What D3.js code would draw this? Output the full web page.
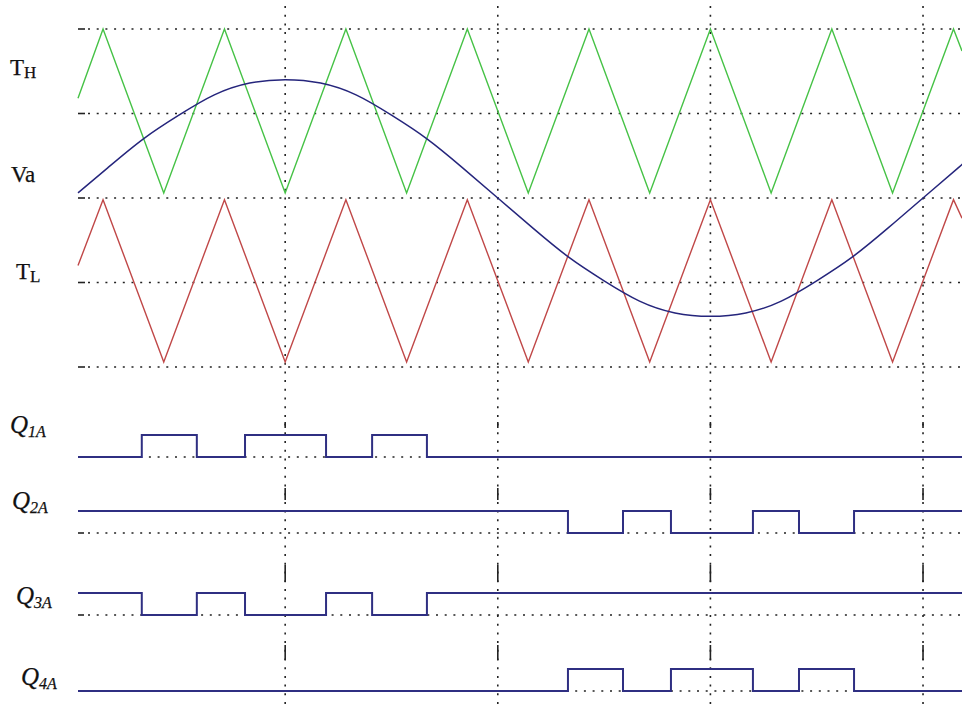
<!DOCTYPE html>
<html>
<head>
<meta charset="utf-8">
<script src="https://cdn.jsdelivr.net/npm/d3@7"></script>
<style>
  body{margin:0;background:#fff;}
  #chart{width:962px;height:704px;}
  text{font-family:"Liberation Serif","DejaVu Serif",serif;fill:#111;stroke:#111;stroke-width:0.25;}
</style>
</head>
<body>
<div id="chart"></div>
<script>
// carrier vertices, phase in degrees of the modulating wave
var carrierPhase=[2.3,12.9,38.6,64.3,90,115.7,141.4,167.1,192.9,218.6,244.3,270,295.7,321.4,347.1,372.9,376.5];
var upperCarrier=[0.59,1,0.03,1,0.03,1,0.03,1,0.03,1,0.03,1,0.03,1,0.03,1,0.87];
var lowerCarrier=[-0.40,-0.01,-0.97,-0.01,-0.97,-0.01,-0.97,-0.01,-0.97,-0.01,-0.97,-0.01,-0.97,-0.01,-0.97,-0.01,-0.12];

// Va
var vaPhase=[2.3,15,30,45,60,75,90,105,120,135,150,165,180,195,210,225,240,255,270,285,300,315,330,345,360,375,376.5];
var vaValue=[0.03,0.18,0.35,0.49,0.61,0.68,0.70,0.68,0.61,0.49,0.35,0.18,0,-0.18,-0.35,-0.49,-0.61,-0.68,-0.70,-0.68,-0.61,-0.49,-0.35,-0.18,0,0.18,0.20];

// switching instants (deg) and level at start
var q1Edges=[29.3,52.6,73.0,107.3,126.8,150.0];
var q2Edges=[209.7,233.0,253.3,288.0,307.5,330.8];
var gateNames=["1A","2A","3A","4A"];
var gateEdges=[q1Edges,q2Edges,q1Edges,q2Edges];
var gateStart=[0,1,1,0];

var gridValues=[1,0.5,0,-0.5,-1];
var gridPhase=[90,180,270,360];

var width=962,height=704;
var svg=d3.select("#chart").append("svg")
  .attr("width",width)
  .attr("height",height);

var x=d3.scaleLinear().domain([2.3,376.5]).range([78,962]);
var y=d3.scaleLinear().domain([-1,1]).range([367,29]);

var dots="2,6.7";
var gridColor="#222";

// top horizontal grid
gridValues.forEach(function(v){
  svg.append("line")
    .attr("x1",x(2.3)).attr("x2",x(2.3)+7)
    .attr("y1",y(v)).attr("y2",y(v))
    .attr("stroke",gridColor).attr("stroke-width",1.6);
  svg.append("line")
    .attr("x1",x(2.3)+10).attr("x2",width)
    .attr("y1",y(v)).attr("y2",y(v))
    .attr("stroke",gridColor).attr("stroke-width",1.6)
    .attr("stroke-dasharray",dots);
});

// gate rows
var rowBase=[457,533,615,691];
var rowHigh=22;

rowBase.forEach(function(b){
  svg.append("line")
    .attr("x1",x(2.3)).attr("x2",x(2.3)+6)
    .attr("y1",b).attr("y2",b)
    .attr("stroke",gridColor).attr("stroke-width",1.6);
  svg.append("line")
    .attr("x1",x(2.3)+10).attr("x2",width)
    .attr("y1",b).attr("y2",b)
    .attr("stroke",gridColor).attr("stroke-width",1.6)
    .attr("stroke-dasharray",dots);
});

// vertical grid
var dashBits=[[422,428],[488,500],[565,582],[645,660]];
gridPhase.forEach(function(p){
  svg.append("line")
    .attr("x1",x(p)).attr("x2",x(p))
    .attr("y1",6).attr("y2",height)
    .attr("stroke",gridColor).attr("stroke-width",1.6)
    .attr("stroke-dasharray",dots);
  dashBits.forEach(function(d){
    svg.append("line")
      .attr("x1",x(p)).attr("x2",x(p))
      .attr("y1",d[0]).attr("y2",d[1])
      .attr("stroke",gridColor).attr("stroke-width",1.6);
  });
});

var line=d3.line()
  .x(function(d){return x(d[0]);})
  .y(function(d){return y(d[1]);});

svg.append("path")
  .datum(d3.zip(carrierPhase,upperCarrier))
  .attr("d",line)
  .attr("fill","none")
  .attr("stroke","#46c246")
  .attr("stroke-width",1.4);

svg.append("path")
  .datum(d3.zip(carrierPhase,lowerCarrier))
  .attr("d",line)
  .attr("fill","none")
  .attr("stroke","#c04848")
  .attr("stroke-width",1.4);

svg.append("path")
  .datum(d3.zip(vaPhase,vaValue))
  .attr("d",line.curve(d3.curveNatural))
  .attr("fill","none")
  .attr("stroke","#25257c")
  .attr("stroke-width",1.5);

// gate signals as step lines
var stepLine=d3.line().curve(d3.curveStepAfter);
gateEdges.forEach(function(edges,i){
  var lvl=gateStart[i];
  var pts=[[x(2.3),lvl]];
  edges.forEach(function(e){
    lvl=1-lvl;
    pts.push([x(e),lvl]);
  });
  pts.push([x(376.5),lvl]);
  var b=rowBase[i];
  svg.append("path")
    .attr("d",stepLine(pts.map(function(p){return [p[0],b-p[1]*rowHigh];})))
    .attr("fill","none")
    .attr("stroke","#2f2f82")
    .attr("stroke-width",2);
});

// labels
function label(xp,yp,main,sub,italic,size,subSize,shift){
  var t=svg.append("text")
    .attr("x",xp).attr("y",yp)
    .style("font-size",size+"px")
    .style("font-style",italic?"italic":"normal");
  t.append("tspan").text(main);
  if(sub){
    t.append("tspan").attr("dy",shift).style("font-size",subSize+"px").text(sub);
  }
}
label(10,75,"T","H",false,23,17,3);
label(11,182,"Va",null,false,23);
label(16,279,"T","L",false,23,17,3);
var qx=[10,12,16,21],qy=[433,509,604,685];
gateNames.forEach(function(n,i){
  label(qx[i],qy[i],"Q",n,true,25,16,4);
});
</script>
</body>
</html>
